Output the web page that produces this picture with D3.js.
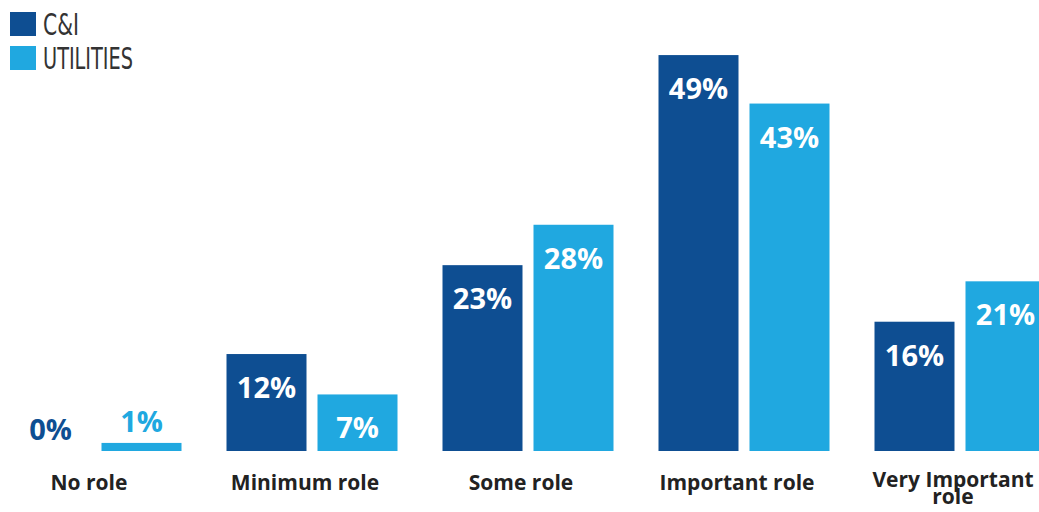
<!DOCTYPE html>
<html>
<head>
<meta charset="utf-8">
<script src="https://cdn.jsdelivr.net/npm/d3@7"></script>
<style>
  html, body { margin: 0; padding: 0; background: #ffffff; }
  svg { display: block; }
</style>
</head>
<body>
<svg id="chart" width="1039" height="512"></svg>
<script>
// Role categories and survey shares (%) per segment
const categories = ["No role", "Minimum role", "Some role", "Important role", "Very Important role"];
const series = ["C&I", "UTILITIES"];
const ciValues = [0, 12, 23, 49, 16];
const utilityValues = [1, 7, 28, 43, 21];
const colors = ["#0e4e92", "#20a8e0"];

const svg = d3.select("#chart");
const baseY = 451;
const pxPerPct = 8.08;

const x0 = d3.scaleBand()
  .domain(categories)
  .range([-12, 1068])
  .paddingInner(45 / 216)
  .paddingOuter(45 / 432);

const x1 = d3.scaleBand()
  .domain(series)
  .range([0, x0.bandwidth()])
  .paddingInner(11 / 91)
  .paddingOuter(0);

const y = d3.scaleLinear()
  .domain([0, 50])
  .range([baseY, baseY - 50 * pxPerPct]);

const color = d3.scaleOrdinal().domain(series).range(colors);

const rows = categories.map((c, i) => ({
  category: c,
  values: [
    { key: series[0], value: ciValues[i] },
    { key: series[1], value: utilityValues[i] }
  ]
}));

const groups = svg.append("g").selectAll("g")
  .data(rows)
  .join("g")
  .attr("transform", d => `translate(${x0(d.category)},0)`);

groups.selectAll("rect")
  .data(d => d.values.filter(v => v.value > 0))
  .join("rect")
  .attr("x", d => x1(d.key))
  .attr("y", d => y(d.value))
  .attr("width", x1.bandwidth())
  .attr("height", d => y(0) - y(d.value))
  .attr("fill", d => color(d.key));

// Value labels: inside tall bars in white, above short bars in the series colour
groups.selectAll("text.value")
  .data(d => d.values)
  .join("text")
  .attr("class", "value")
  .attr("x", d => x1(d.key) + x1.bandwidth() / 2)
  .attr("y", d => d.value >= 5 ? y(d.value) + 44 : y(d.value) - 11)
  .attr("text-anchor", "middle")
  .attr("font-family", "'Open Sans', 'Noto Sans', sans-serif")
  .attr("font-weight", 700)
  .attr("font-size", 29)
  .attr("fill", d => d.value >= 5 ? "#ffffff" : color(d.key))
  .text(d => d.value + "%");

// Category labels, wrapped onto two lines where needed
const catLabel = svg.append("g").selectAll("text")
  .data(categories)
  .join("text")
  .attr("x", d => x0(d) + x0.bandwidth() / 2 - 7)
  .attr("y", d => d === "Very Important role" ? 487 : 490)
  .attr("text-anchor", "middle")
  .attr("font-family", "'Open Sans', 'Noto Sans', sans-serif")
  .attr("font-weight", 700)
  .attr("font-size", 21)
  .attr("fill", "#222222");

catLabel.each(function(d) {
  const t = d3.select(this);
  if (d === "Very Important role") {
    t.append("tspan").attr("x", t.attr("x")).attr("dy", 0).text("Very Important");
    t.append("tspan").attr("x", t.attr("x")).attr("dy", 17).text("role");
  } else {
    t.text(d);
  }
});

// Legend
const legend = svg.append("g").attr("transform", "translate(10,12)");
const legendItems = legend.selectAll("g")
  .data(series)
  .join("g")
  .attr("transform", (d, i) => `translate(0,${i * 34})`);

legendItems.append("rect")
  .attr("width", 26)
  .attr("height", 24)
  .attr("fill", d => color(d));

legendItems.append("text")
  .attr("x", 33)
  .attr("y", 23)
  .attr("font-family", "'Liberation Sans Narrow', 'DejaVu Sans Condensed', sans-serif")
  .attr("font-size", 31)
  .attr("fill", "#333333")
  .attr("textLength", (d, i) => i === 0 ? 36 : 90)
  .attr("lengthAdjust", "spacingAndGlyphs")
  .text(d => d);
</script>
</body>
</html>
